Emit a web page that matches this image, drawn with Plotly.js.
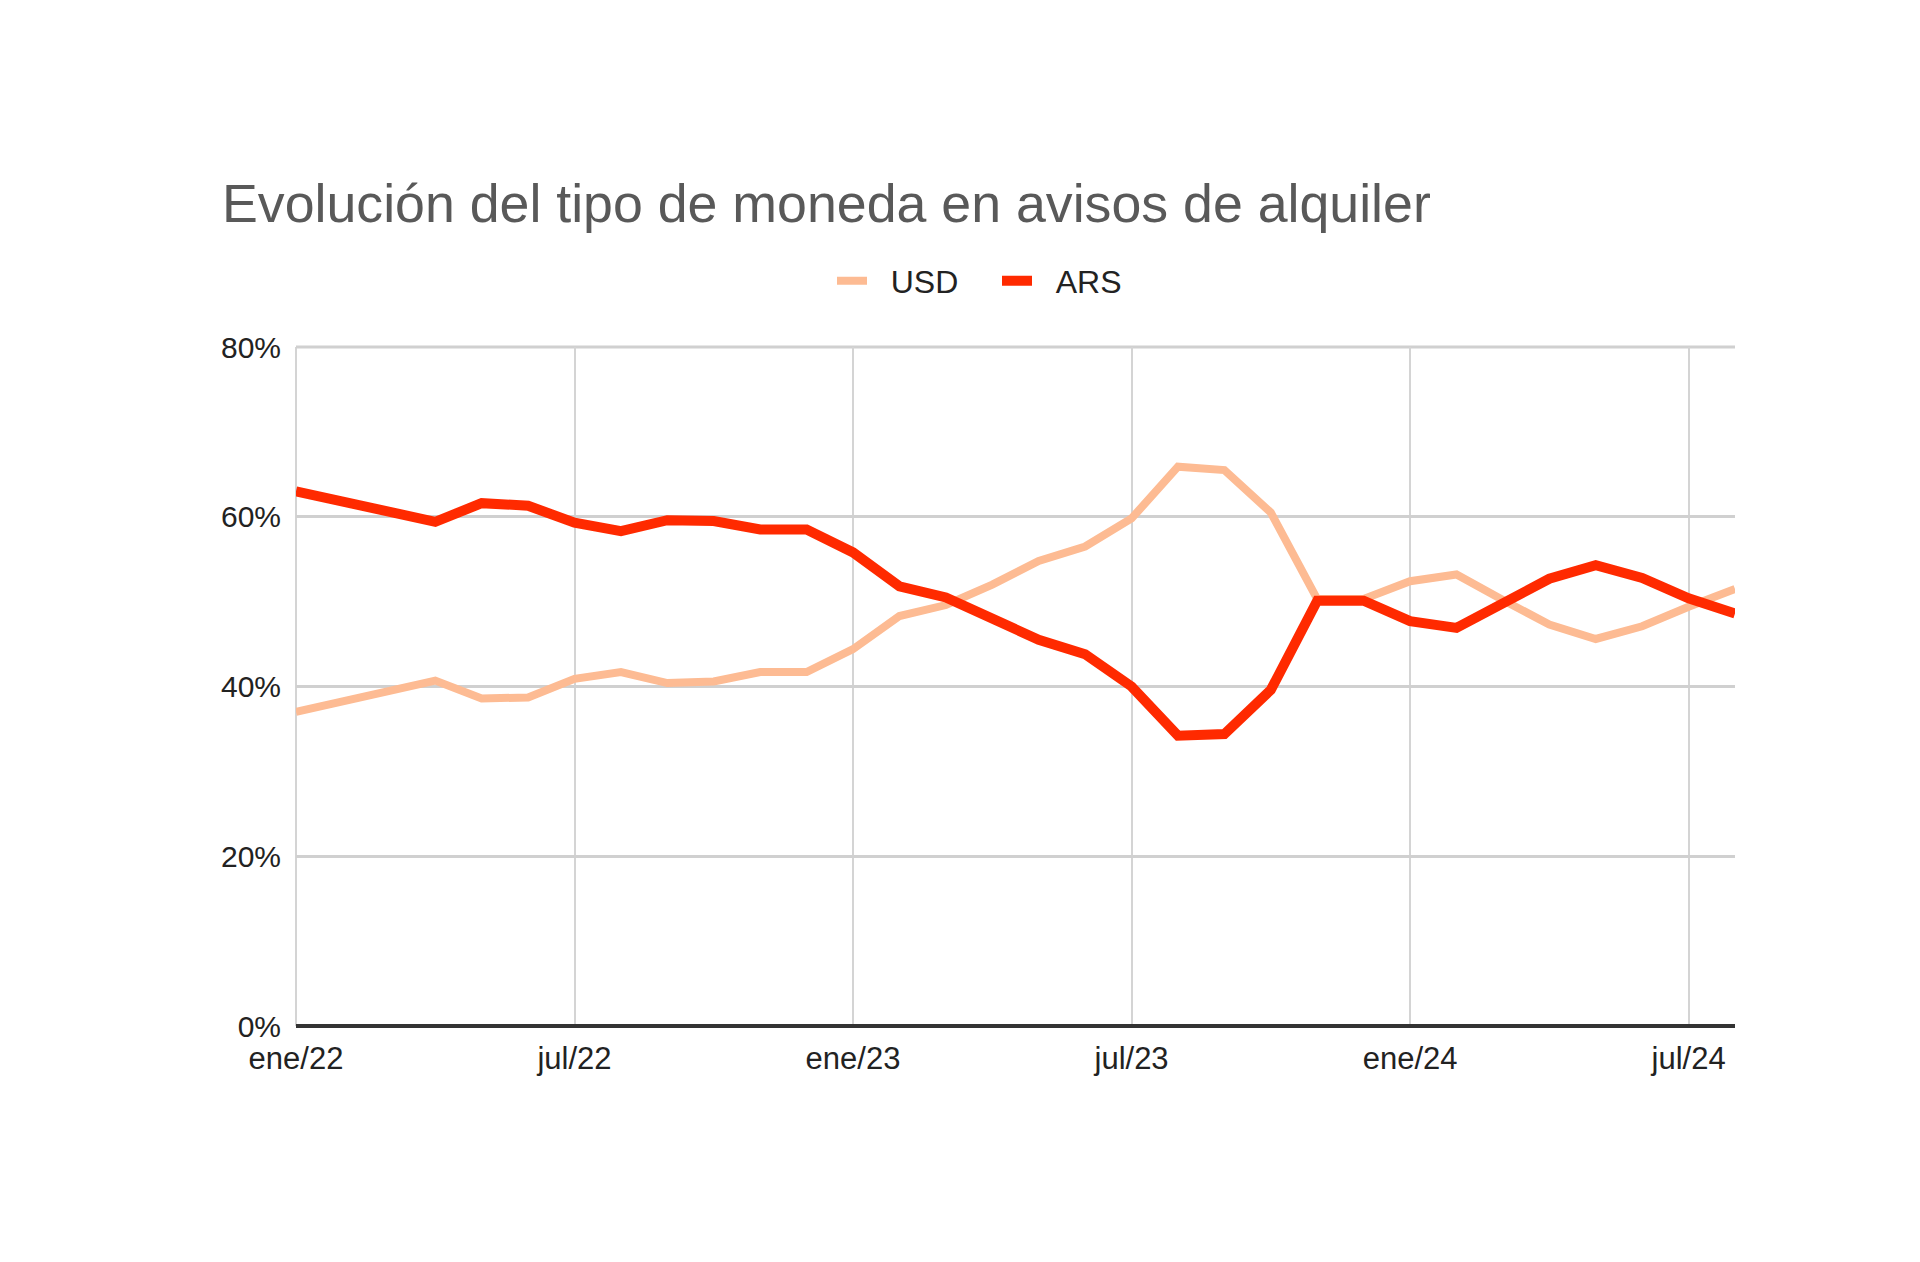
<!DOCTYPE html>
<html>
<head>
<meta charset="utf-8">
<script src="https://cdn.plot.ly/plotly-3.0.1.min.js"></script>
<style>html,body{margin:0;padding:0;background:#fff;}#chart{width:1920px;height:1262px;}</style>
</head>
<body>
<div id="chart"></div>
<script>
const months = [
  "ene/22","feb/22","mar/22","abr/22","may/22","jun/22","jul/22","ago/22","sep/22","oct/22","nov/22","dic/22",
  "ene/23","feb/23","mar/23","abr/23","may/23","jun/23","jul/23","ago/23","sep/23","oct/23","nov/23","dic/23",
  "ene/24","feb/24","mar/24","abr/24","may/24","jun/24","jul/24","ago/24"
];
const usd = [
  37.0, 38.2, 39.4, 40.7, 38.6, 38.7, 40.9, 41.7, 40.4, 40.6, 41.7, 41.7,
  44.4, 48.3, 49.6, 52.0, 54.8, 56.5, 59.8, 65.9, 65.5, 60.5, 50.3, 50.3,
  52.4, 53.2, 50.2, 47.3, 45.6, 47.1, 49.4, 51.5
];
const ars = [
  63.0, 61.8, 60.6, 59.4, 61.6, 61.3, 59.3, 58.3, 59.6, 59.5, 58.5, 58.5,
  55.8, 51.8, 50.5, 48.1, 45.5, 43.8, 40.0, 34.2, 34.4, 39.6, 50.1, 50.1,
  47.7, 46.9, 49.9, 52.7, 54.3, 52.8, 50.4, 48.6
];
const seriesNames = ["USD", "ARS"];
const tickMonths = ["ene/22","jul/22","ene/23","jul/23","ene/24","jul/24"];
const yTicks = [0, 20, 40, 60, 80];
const yTickText = yTicks.map(v => v + "%");

const pad = "\u2002\u200a";
const traces = [
  {x: months, y: usd, name: pad + seriesNames[0], type: "scatter", mode: "lines",
   line: {color: "#fdbb93", width: 8}},
  {x: months, y: ars, name: pad + seriesNames[1], type: "scatter", mode: "lines",
   line: {color: "#ff2a00", width: 10}}
];

const layout = {
  width: 1920, height: 1262,
  paper_bgcolor: "#ffffff", plot_bgcolor: "#ffffff",
  margin: {l: 296, r: 185, t: 347, b: 236},
  font: {family: "Liberation Sans, Arial, sans-serif", color: "#222"},
  title: {
    text: "Evolución del tipo de moneda en avisos de alquiler",
    font: {size: 53.7, color: "#595959", family: "Liberation Sans, Arial, sans-serif"},
    xref: "container", yref: "container",
    x: 222/1920, xanchor: "left",
    y: 1 - 203/1262, yanchor: "middle"
  },
  showlegend: true,
  legend: {
    orientation: "h",
    xref: "container", yref: "container",
    x: 832/1920, xanchor: "left",
    y: 1 - 281/1262, yanchor: "middle",
    font: {size: 32, color: "#222"},
    itemwidth: 30,
    entrywidth: 120, entrywidthmode: "pixels",
    bgcolor: "rgba(0,0,0,0)"
  },
  shapes: [
    {type: "line", xref: "paper", yref: "paper", x0: 0, x1: 0, y0: 0, y1: 1,
     line: {color: "#d4d4d4", width: 2}, layer: "below"},
    {type: "line", xref: "paper", yref: "paper", x0: 0, x1: 1, y0: 1, y1: 1,
     line: {color: "#d0d0d0", width: 3}, layer: "below"}
  ],
  xaxis: {
    type: "category",
    range: [0, months.length - 1],
    tickvals: tickMonths,
    ticktext: tickMonths,
    showgrid: true, gridcolor: "#d4d4d4", gridwidth: 2,
    showline: false, zeroline: false,
    ticks: "",
    ticklabelstandoff: 11,
    tickfont: {size: 31, color: "#222"},
    fixedrange: true
  },
  yaxis: {
    range: [0, 80],
    tickvals: yTicks,
    ticktext: yTickText,
    showgrid: true, gridcolor: "#d0d0d0", gridwidth: 3,
    zeroline: true, zerolinecolor: "#333333", zerolinewidth: 4,
    showline: false,
    ticks: "",
    ticklabelstandoff: 14,
    tickfont: {size: 30, color: "#222"},
    fixedrange: true
  }
};

Plotly.newPlot("chart", traces, layout, {displayModeBar: false, staticPlot: true});
</script>
</body>
</html>
